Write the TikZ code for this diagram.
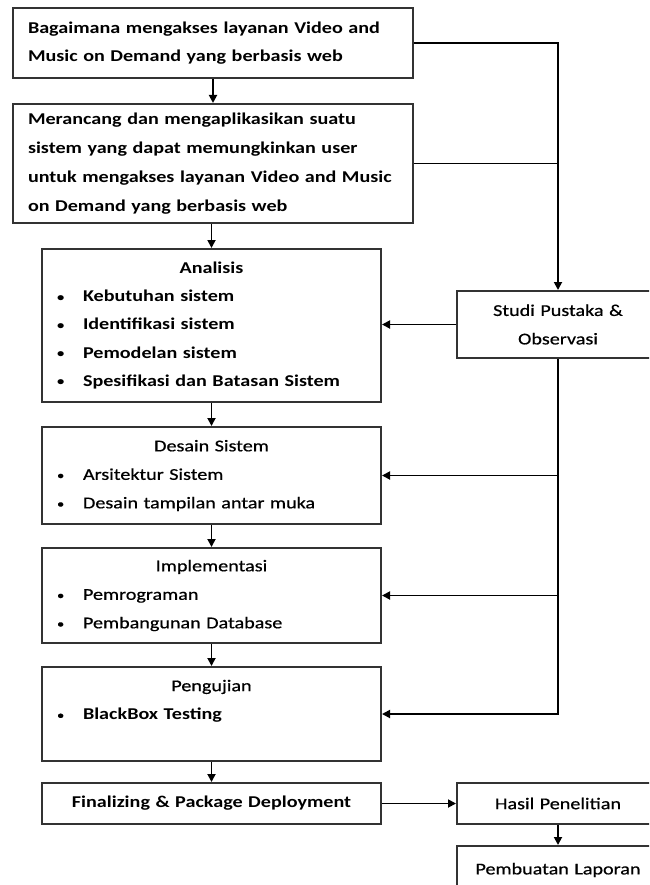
\documentclass[tikz,border=0pt]{standalone}
\usepackage{fontspec}
\setmainfont{Carlito}[FakeStretch=1.22, UprightFeatures={FakeBold=0.6}]
\usetikzlibrary{arrows.meta}
\newcommand\bitem[1]{\makebox[26pt][l]{\raisebox{0.5pt}{\fontsize{12}{12}\selectfont\textbullet}}#1}
\newcommand\hdr[1]{\makebox[\linewidth][c]{#1}}
\begin{document}
\begin{tikzpicture}[x=1pt,y=-1pt,
  box/.style={draw=black!80, line width=2pt, rectangle, inner xsep=15pt, inner ysep=0pt,
    font=\fontsize{16.5}{28.5}\selectfont, anchor=center},
  lbox/.style={box, align=left},
  cbox/.style={box, align=center},
  arr/.style={line width=1.8pt, draw=black, -{Triangle[length=8pt,width=8pt]}},
  ln/.style={line width=1.8pt, draw=black}]
\useasboundingbox (0,0) rectangle (649,885);
\clip (0,0) rectangle (649,885);
\fill[white] (0,0) rectangle (649,885);

\node[lbox, font=\fontsize{16.5}{28.5}\selectfont\bfseries, text width=370pt, minimum width=400pt, minimum height=70pt] (b1) at (213,43)
  {Bagaimana mengakses layanan Video and\\ Music on Demand yang berbasis web};
\node[lbox, font=\fontsize{16.5}{29}\selectfont\bfseries, text width=370pt, minimum width=400pt, minimum height=119pt] (b2) at (213,163.5)
  {Merancang dan mengaplikasikan suatu\\ sistem yang dapat memungkinkan user\\ untuk mengakses layanan Video and Music\\ on Demand yang berbasis web};

\node[lbox, font=\fontsize{16.5}{28.2}\selectfont\bfseries, text width=309pt, minimum width=339pt, minimum height=153pt] (analisis) at (211.5,325.5)
  {\hdr{Analisis}\\ \bitem{Kebutuhan sistem}\\ \bitem{Identifikasi sistem}\\ \bitem{Pemodelan sistem}\\ \bitem{Spesifikasi dan Batasan Sistem}};
\node[lbox, text width=309pt, minimum width=339pt, minimum height=97pt] (desain) at (211.5,475.5)
  {\hdr{Desain Sistem}\\ \bitem{Arsitektur Sistem}\\ \bitem{Desain tampilan antar muka}};
\node[lbox, text width=309pt, minimum width=339pt, minimum height=95pt] (impl) at (211.5,595.5)
  {\hdr{Implementasi}\\ \bitem{Pemrograman}\\ \bitem{Pembangunan Database}};
\node[lbox, text width=309pt, minimum width=339pt, minimum height=94pt] (uji) at (211.5,714)
  {\hdr{Pengujian}\\ \bitem{\textbf{BlackBox Testing}}\\ \mbox{}};
\node[cbox, font=\fontsize{16.5}{28.5}\selectfont\bfseries, text width=309pt, minimum width=339pt, minimum height=41pt] (final) at (211.5,803.5)
  {Finalizing \& Package Deployment};

\node[cbox, text width=172pt, minimum width=202pt, minimum height=67pt] (studi) at (558,324.5)
  {Studi Pustaka \&\\ Observasi};
\node[cbox, text width=172pt, minimum width=202pt, minimum height=41pt] (hasil) at (558,803.5)
  {Hasil Penelitian};
\node[cbox, text width=172pt, minimum width=202pt, minimum height=48pt] (lapor) at (558,870)
  {Pembuatan Laporan};

\draw[arr] (b1) -- (b2);
\draw[arr] (analisis.north |- b2.south) -- (analisis.north);
\draw[arr] (analisis) -- (desain);
\draw[arr] (desain) -- (impl);
\draw[arr] (impl) -- (uji);
\draw[arr] (uji) -- (final);
\draw[arr] (b1.east) -| (studi.north);
\draw[ln] (b2.east) -- (b2.east -| studi.north);
\draw[arr] (studi.west) -- (studi.west -| analisis.east);
\draw[arr] (studi.south) |- (uji.east);
\draw[arr] (studi.south |- desain.east) -- (desain.east);
\draw[arr] (studi.south |- impl.east) -- (impl.east);
\draw[arr] (final) -- (hasil);
\draw[arr] (hasil) -- (lapor);
\end{tikzpicture}
\end{document}
